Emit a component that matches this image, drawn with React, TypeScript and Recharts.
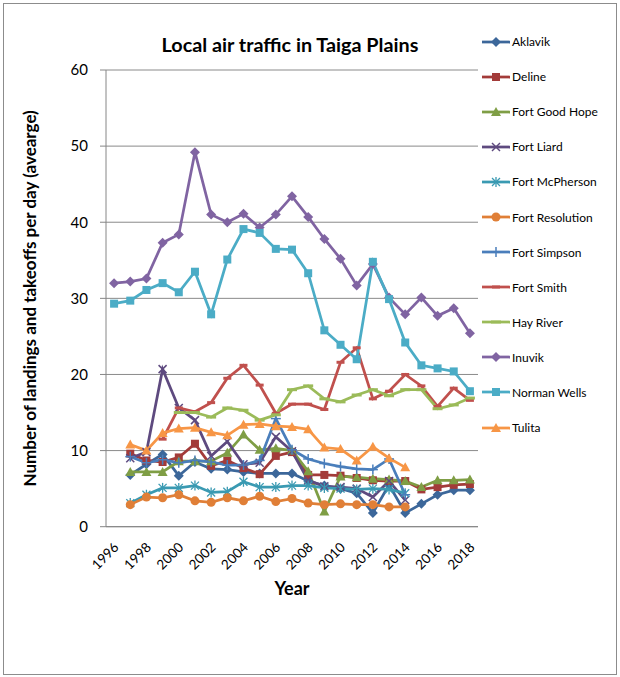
import React from 'react';
import { LineChart, Line, XAxis, YAxis, CartesianGrid, Legend } from 'recharts';

const FONT = 'Lato, "Open Sans", sans-serif';

const years = [1996, 1997, 1998, 1999, 2000, 2001, 2002, 2003, 2004, 2005, 2006, 2007, 2008, 2009, 2010, 2011, 2012, 2013, 2014, 2015, 2016, 2017, 2018];
const yearLabels = [1996, 1998, 2000, 2002, 2004, 2006, 2008, 2010, 2012, 2014, 2016, 2018];
const yTicks = [0, 10, 20, 30, 40, 50, 60];

const aklavik = [null, 6.8, 8.2, 9.5, 6.7, 8.5, 7.6, 7.5, 7.2, 7.0, 7.0, 7.0, 6.0, 5.4, 5.0, 4.4, 1.8, 5.5, 1.8, 3.0, 4.2, 4.8, 4.8];
const deline = [null, 9.6, 8.7, 8.5, 9.1, 10.9, 8.0, 8.7, 7.7, 6.9, 9.3, 9.8, 6.8, 6.8, 6.7, 6.4, 6.1, 6.0, 6.0, 4.9, 5.2, 5.5, 5.6];
const fortGoodHope = [null, 7.2, 7.2, 7.2, 8.6, 8.6, 8.6, 9.7, 12.1, 10.1, 10.3, 10.0, 7.3, 2.0, 6.6, 6.5, 6.3, 6.2, 6.0, 5.2, 6.1, 6.1, 6.2];
const fortLiard = [null, 9.0, 9.8, 20.7, 15.6, 14.0, 9.3, 11.2, 8.2, 8.4, 11.8, 9.9, 6.1, 5.3, 5.2, 5.0, 3.9, 6.0, 3.5, null, null, null, null];
const fortMcPherson = [null, 3.1, 4.2, 5.1, 5.1, 5.4, 4.5, 4.6, 5.9, 5.2, 5.2, 5.4, 5.4, 5.1, 5.0, 4.9, 5.0, 4.9, 4.4, null, null, null, null];
const fortResolution = [null, 2.9, 3.9, 3.8, 4.2, 3.4, 3.2, 3.8, 3.4, 4.0, 3.3, 3.7, 3.1, 2.9, 3.0, 2.9, 2.9, 2.6, 2.6, null, null, null, null];
const fortSimpson = [null, 9.2, 8.4, 8.8, 8.4, 8.7, 8.5, 8.1, 8.1, 8.7, 14.2, 10.1, 8.9, 8.3, 7.9, 7.6, 7.5, 8.9, 4.2, null, null, null, null];
const fortSmith = [null, null, null, 11.5, 15.6, 15.1, 16.3, 19.5, 21.2, 18.6, 14.9, 16.1, 16.1, 15.4, 21.6, 23.5, 16.8, 17.8, 20.0, 18.5, 15.8, 18.2, 16.6];
const hayRiver = [null, null, null, null, 15.0, 15.0, 14.4, 15.6, 15.3, 14.0, 14.7, 18.0, 18.5, 16.8, 16.4, 17.3, 18.0, 17.2, 18.0, 18.0, 15.5, 16.0, 16.9];
const inuvik = [32.0, 32.2, 32.6, 37.3, 38.4, 49.2, 41.0, 40.0, 41.1, 39.3, 41.0, 43.4, 40.7, 37.8, 35.2, 31.7, 34.5, 30.1, 27.9, 30.1, 27.7, 28.7, 25.4];
const normanWells = [29.3, 29.7, 31.1, 32.0, 30.8, 33.5, 27.9, 35.1, 39.1, 38.6, 36.5, 36.4, 33.3, 25.8, 23.9, 22.0, 34.8, 29.9, 24.2, 21.2, 20.8, 20.4, 17.8];
const tulita = [null, 10.8, 10.0, 12.3, 12.9, 13.0, 12.4, 12.0, 13.4, 13.5, 13.2, 13.1, 12.8, 10.4, 10.2, 8.7, 10.5, 9.0, 7.8, null, null, null, null];

type MarkerKind = 'diamond' | 'square' | 'triangle' | 'x' | 'star' | 'circle' | 'plus' | 'dash' | 'longdash';

const series: { name: string; values: (number | null)[]; color: string; marker: MarkerKind }[] = [
  { name: 'Aklavik', values: aklavik, color: '#3C679A', marker: 'diamond' },
  { name: 'Deline', values: deline, color: '#A33B39', marker: 'square' },
  { name: 'Fort Good Hope', values: fortGoodHope, color: '#7F9E45', marker: 'triangle' },
  { name: 'Fort Liard', values: fortLiard, color: '#5E4A7F', marker: 'x' },
  { name: 'Fort McPherson', values: fortMcPherson, color: '#3A9AB2', marker: 'star' },
  { name: 'Fort Resolution', values: fortResolution, color: '#E07F37', marker: 'circle' },
  { name: 'Fort Simpson', values: fortSimpson, color: '#4A7EBB', marker: 'plus' },
  { name: 'Fort Smith', values: fortSmith, color: '#C0504D', marker: 'dash' },
  { name: 'Hay River', values: hayRiver, color: '#9BBB59', marker: 'longdash' },
  { name: 'Inuvik', values: inuvik, color: '#8064A2', marker: 'diamond' },
  { name: 'Norman Wells', values: normanWells, color: '#4BACC6', marker: 'square' },
  { name: 'Tulita', values: tulita, color: '#F79646', marker: 'triangle' },
];

const rows = years.map((y, i) => {
  const r: Record<string, number | null> = { year: y };
  series.forEach((s) => {
    r[s.name] = s.values[i];
  });
  return r;
});

function MarkerShape({ kind, color, cx, cy }: { kind: MarkerKind; color: string; cx: number; cy: number }) {
  switch (kind) {
    case 'diamond':
      return <polygon points={`${cx},${cy - 5} ${cx + 5},${cy} ${cx},${cy + 5} ${cx - 5},${cy}`} fill={color} />;
    case 'square':
      return <rect x={cx - 4} y={cy - 4} width={8} height={8} fill={color} />;
    case 'triangle':
      return <polygon points={`${cx},${cy - 5} ${cx + 5},${cy + 4} ${cx - 5},${cy + 4}`} fill={color} />;
    case 'circle':
      return <circle cx={cx} cy={cy} r={4.5} fill={color} />;
    case 'x':
      return (
        <g stroke={color} strokeWidth={1.5}>
          <line x1={cx - 4} y1={cy - 4} x2={cx + 4} y2={cy + 4} />
          <line x1={cx - 4} y1={cy + 4} x2={cx + 4} y2={cy - 4} />
        </g>
      );
    case 'star':
      return (
        <g stroke={color} strokeWidth={1.3}>
          <line x1={cx - 4} y1={cy - 4} x2={cx + 4} y2={cy + 4} />
          <line x1={cx - 4} y1={cy + 4} x2={cx + 4} y2={cy - 4} />
          <line x1={cx} y1={cy - 5} x2={cx} y2={cy + 5} />
        </g>
      );
    case 'plus':
      return (
        <g stroke={color} strokeWidth={1.5}>
          <line x1={cx - 5} y1={cy} x2={cx + 5} y2={cy} />
          <line x1={cx} y1={cy - 5} x2={cx} y2={cy + 5} />
        </g>
      );
    case 'dash':
      return <rect x={cx - 4} y={cy - 1.5} width={8} height={3} fill={color} />;
    case 'longdash':
    default:
      return <rect x={cx - 5} y={cy - 1.5} width={10} height={3} fill={color} />;
  }
}

const makeDot = (kind: MarkerKind, color: string) => (p: any) => {
  const k = `dot-${p.index}`;
  if (p.cx == null || p.cy == null || p.value == null || Number.isNaN(p.cy)) return <g key={k} />;
  return (
    <g key={k}>
      <MarkerShape kind={kind} color={color} cx={p.cx} cy={p.cy} />
    </g>
  );
};

const XTick = (props: any) => {
  const { x, y, payload } = props;
  return (
    <text
      transform={`translate(${x + 2},${y + 18}) rotate(-45)`}
      textAnchor="end"
      dominantBaseline="central"
      fontSize={13.5}
      fontFamily={FONT}
      fill="#000"
    >
      {payload.value}
    </text>
  );
};

const LegendContent = () => (
  <div style={{ fontFamily: FONT }}>
    {series.map((s) => (
      <div key={s.name} style={{ height: 35.1, display: 'flex', alignItems: 'center' }}>
        <svg width={30} height={12} style={{ display: 'block' }}>
          <line x1={0} y1={6} x2={28} y2={6} stroke={s.color} strokeWidth={2.75} />
          <MarkerShape kind={s.marker} color={s.color} cx={14} cy={6} />
        </svg>
        <span style={{ fontSize: 12, color: '#000', whiteSpace: 'nowrap' }}>{s.name}</span>
      </div>
    ))}
  </div>
);

export default function App() {
  return (
    <div style={{ position: 'absolute', left: 0, top: 0, width: 620, height: 677, background: '#fff' }}>
      <div
        style={{
          position: 'absolute',
          left: 3,
          top: 3,
          width: 614,
          height: 672,
          border: '1px solid #8c8c8c',
          boxSizing: 'border-box',
        }}
      />
      <div
        style={{
          position: 'absolute',
          left: 90,
          width: 400,
          top: 31,
          height: 26,
          lineHeight: '26px',
          textAlign: 'center',
          fontFamily: FONT,
          fontWeight: 700,
          fontSize: 19.8,
          color: '#000',
        }}
      >
        Local air traffic in Taiga Plains
      </div>
      <LineChart width={620} height={677} data={rows} margin={{ top: 70, right: 142, bottom: 75.3, left: 46 }}>
        <CartesianGrid horizontal vertical={false} stroke="#8a8a8a" strokeWidth={1} />
        <XAxis
          xAxisId="marks"
          dataKey="year"
          type="number"
          domain={[1995.5, 2018.5]}
          ticks={[1995.5, ...years.map((y) => y + 0.5)]}
          interval={0}
          height={0}
          axisLine={false}
          tick={false}
          tickLine={{ stroke: '#868686' }}
          tickSize={5}
        />
        <XAxis
          dataKey="year"
          type="number"
          domain={[1995.5, 2018.5]}
          ticks={yearLabels}
          interval={0}
          height={75}
          axisLine={{ stroke: '#868686' }}
          tickLine={false}
          tickSize={0}
          tickMargin={0}
          tick={<XTick />}
          label={{
            content: (p: any) => {
              const vb = p.viewBox;
              return (
                <text
                  x={vb.x + vb.width / 2}
                  y={vb.y + 68.3}
                  textAnchor="middle"
                  fontFamily={FONT}
                  fontWeight={700}
                  fontSize={18}
                  fill="#000"
                >
                  Year
                </text>
              );
            },
          }}
        />
        <YAxis
          type="number"
          domain={[0, 60]}
          ticks={yTicks}
          interval={0}
          width={60}
          axisLine={{ stroke: '#868686' }}
          tickLine={{ stroke: '#868686' }}
          tickSize={6}
          tickMargin={12}
          tick={{ fontSize: 15, fill: '#000', fontFamily: FONT }}
          label={{
            content: (p: any) => {
              const vb = p.viewBox;
              const cx = vb.x - 16;
              const cy = vb.y + vb.height / 2;
              return (
                <text
                  x={cx}
                  y={cy}
                  transform={`rotate(-90 ${cx} ${cy})`}
                  textAnchor="middle"
                  dominantBaseline="central"
                  fontFamily={FONT}
                  fontWeight={700}
                  fontSize={17}
                  fill="#000"
                >
                  Number of landings and takeoffs per day (avearge)
                </text>
              );
            },
          }}
        />
        <Legend
          layout="horizontal"
          verticalAlign="middle"
          align="center"
          wrapperStyle={{ position: 'absolute', left: 482, top: 24, width: 135, right: 'auto', bottom: 'auto' }}
          content={<LegendContent />}
        />
        {series.map((s) => (
          <Line
            key={s.name}
            dataKey={s.name}
            name={s.name}
            type="linear"
            stroke={s.color}
            strokeWidth={2.75}
            dot={makeDot(s.marker, s.color)}
            activeDot={false}
            connectNulls={false}
            isAnimationActive={false}
          />
        ))}
      </LineChart>
    </div>
  );
}
